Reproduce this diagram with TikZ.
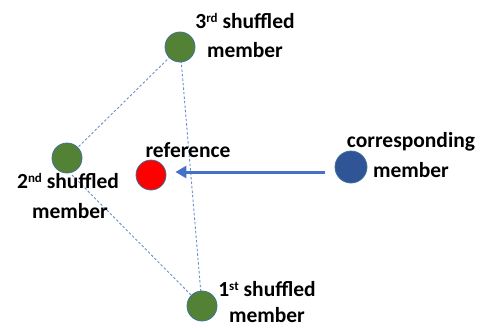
\documentclass[tikz,border=0pt]{standalone}
\usepackage{fontspec}
\setmainfont{Carlito}
\usetikzlibrary{arrows.meta,backgrounds}
\definecolor{gr}{HTML}{548235}
\definecolor{edge}{HTML}{41719C}
\definecolor{bl}{HTML}{2F5597}
\definecolor{ar}{HTML}{4472C4}
\newcommand\supx[1]{\raisebox{5.5pt}{\fontsize{13}{13}\selectfont #1}}
\begin{document}
\begin{tikzpicture}[x=1pt,y=-1pt,
  member/.style={circle,draw=edge,line width=0.8pt,minimum size=30pt,inner sep=0pt},
  lbl/.style={font=\bfseries\fontsize{21.5}{24}\selectfont,anchor=base,inner sep=0pt},
  link/.style={draw=ar!80,line width=0.9pt,dash pattern=on 2.5pt off 2pt}]
\useasboundingbox (0,0) rectangle (486,327);
\node[member,fill=gr] (n3) at (180,47) {};
\node[member,fill=gr] (n2) at (67,158) {};
\node[member,fill=gr] (n1) at (202,306) {};
\node[member,fill=red] (ref) at (151,175) {};
\node[member,fill=bl,minimum size=32pt] (cm) at (351,167) {};
\coordinate (c2) at (72,175);
\begin{scope}[on background layer]
  \draw[link] (n3.center) -- (n2.center);
  \draw[link] (n3.center) -- (n1.center);
  \draw[link] (c2) -- (n1.center);
\end{scope}
\draw[ar,line width=3pt,-{Triangle[length=11pt,width=12pt]}]
  ([xshift=-10pt,yshift=-5pt]cm.west) -- ([xshift=9pt,yshift=3pt]ref.east);
\node[lbl] (t3a) at (245,28) {3\supx{rd} shuffled};
\node[lbl] (t3b) at (245,57) {member};
\node[lbl] (tref) at (188,157) {reference};
\node[lbl] (t2a) at (68,188) {2\supx{nd} shuffled};
\node[lbl] (t2b) at (70,218) {member};
\node[lbl] (tca) at (411,147) {corresponding};
\node[lbl] (tcb) at (411,177) {member};
\node[lbl] (t1a) at (267,296) {1\supx{st} shuffled};
\node[lbl] (t1b) at (267,322) {member};
\end{tikzpicture}
\end{document}
